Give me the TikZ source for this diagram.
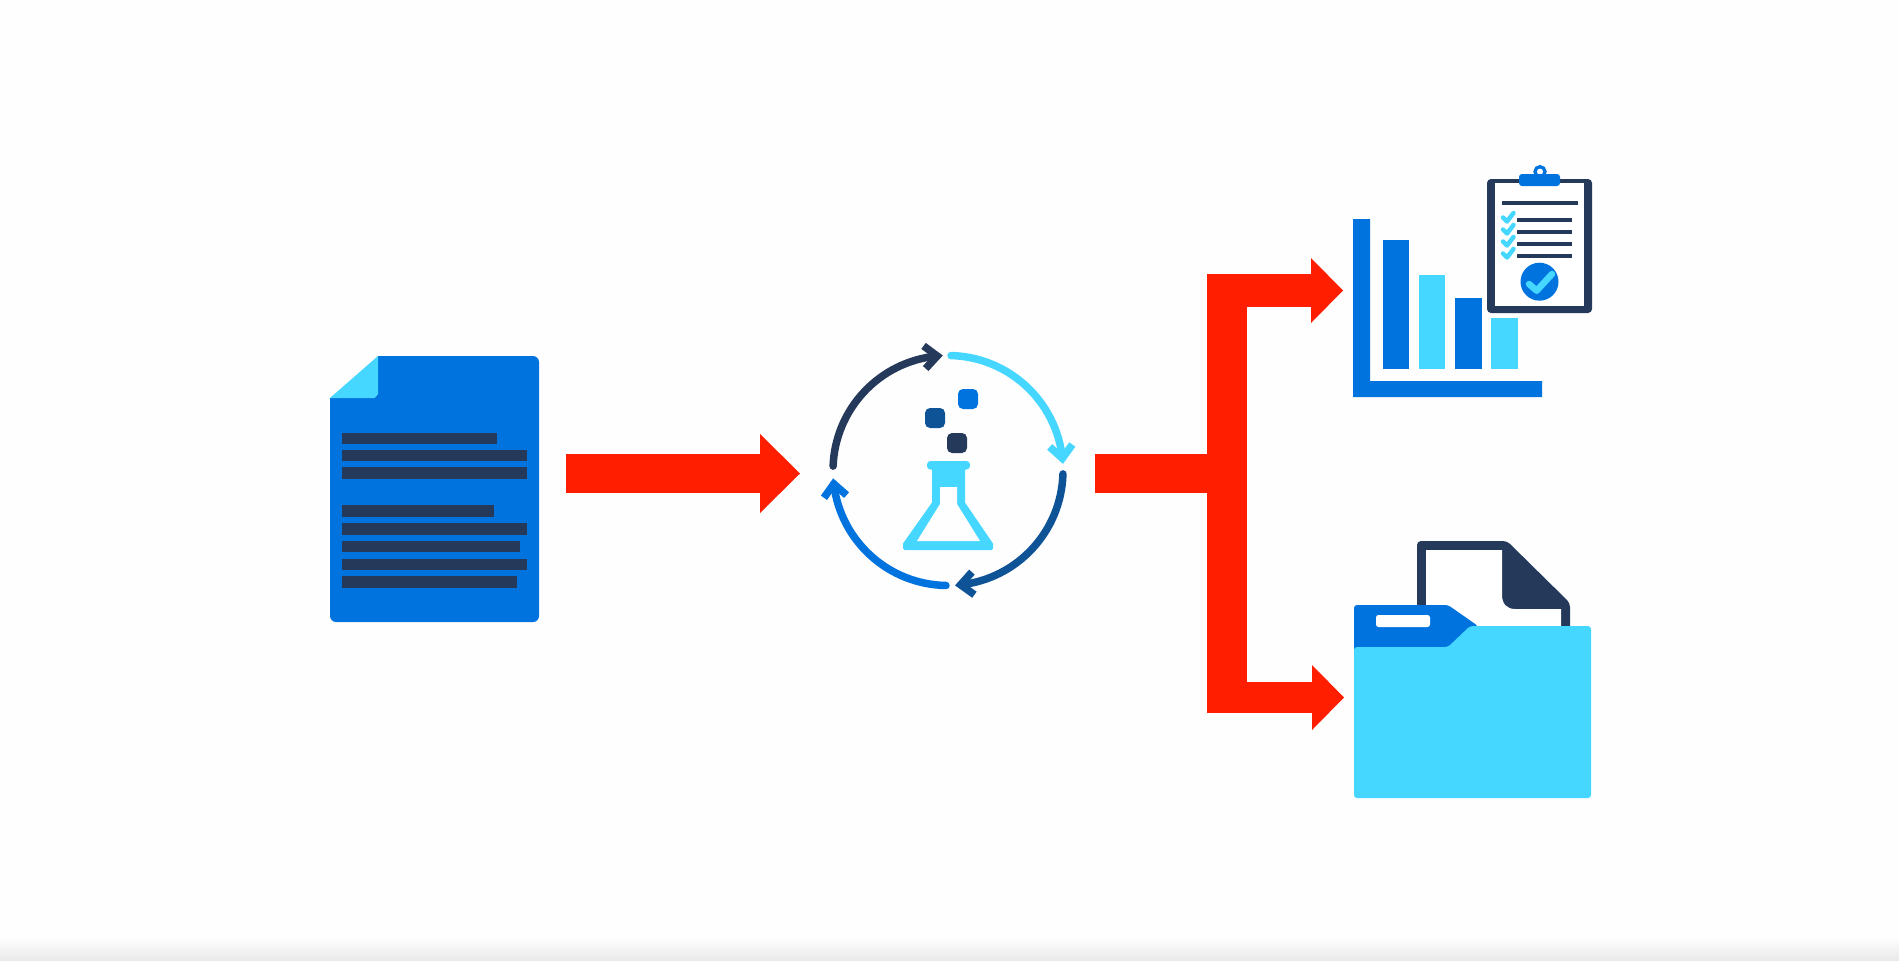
\documentclass[tikz,border=0pt]{standalone}
\usetikzlibrary{arrows.meta,calc}
\definecolor{mblue}{HTML}{0073DE}
\definecolor{lblue}{HTML}{45D7FF}
\definecolor{navy}{HTML}{25395A}
\definecolor{dblue}{HTML}{0F5397}
\definecolor{rred}{HTML}{FF1E00}
\tikzset{
  iconbox/.style={inner sep=0pt,outer sep=0pt,draw=none,fill=none},
  redline/.style={draw=rred,line cap=butt},
  bigtip/.style={-{Triangle[length=40pt,width=79pt,line width=0pt]}},
  armtip/.style={-{Triangle[length=32pt,width=65pt,line width=0pt]}},
  cyc/.style={line width=7.5pt,line cap=round},
  cychead/.style={line width=7.5pt,line cap=butt,line join=miter,miter limit=10},
  txtbar/.style={fill=navy},
  clipline/.style={draw=navy,line width=3.5pt},
  chk/.style={draw=lblue,line width=4.5pt,line cap=round,line join=round},
}
\newcommand{\cycarc}[3]{%
  \draw[#1,cyc] ($(cc)+(#2:115)$) arc[start angle=#2,end angle=#3,radius=115];
  \draw[#1,cychead] ($(cc)+(#3:115)+(#3+90+180+42:17)$) -- ($(cc)+(#3:115)$) -- ($(cc)+(#3:115)+(#3+90+180-42:17)$);
}
\begin{document}
\begin{tikzpicture}[x=1pt,y=-1pt]
\useasboundingbox (0,0) rectangle (1899,961);
\fill[white!99.6!black] (0,0) rectangle (1899,961);
\shade[top color=white!99.6!black,bottom color=black!9] (0,938) rectangle (1899,961);

% icon frames
\node[iconbox,minimum width=209pt,minimum height=266pt] (doc) at (434.5,489) {};
\node[iconbox,minimum width=236pt,minimum height=236pt] (cycle) at (948,470.5) {};
\node[iconbox,minimum width=239pt,minimum height=229pt] (charts) at (1472.5,282.5) {};
\node[iconbox,minimum width=237pt,minimum height=257pt] (folder) at (1472.5,669.5) {};

% document
\fill[mblue,rounded corners=6pt] (330,398) -- (330,622) -- (539,622) -- (539,356) -- (378,356) -- (378,398) -- cycle;
\fill[mblue] (330,398) rectangle (345,420);
\fill[mblue] (378,356) rectangle (395,372);
\fill[lblue] (330,398) -- (378,356) -- (378,394) to[out=90,in=0] (374,398) -- cycle;
\foreach \ya/\yb/\xe in {433/444/497,450/461/527,467/479/527,505/517/494,523/535/527,541/552/520,559/570/527,576/588/517}
  \fill[txtbar] (342,\ya) rectangle (\xe,\yb);

% arrow doc -> cycle
\coordinate (a1s) at ([shift={(27pt,15.5pt)}]doc.east);
\coordinate (a1e) at ([shift={(-30pt,-3pt)}]cycle.west);
\draw[redline,line width=39pt,bigtip] (a1s) -- (a1e);

% cycle
\coordinate (cc) at (cycle.center);
\cycarc{navy}{182.2}{264.6}
\cycarc{lblue}{271.5}{353.9}
\cycarc{dblue}{1.7}{83.7}
\cycarc{mblue}{91}{173.3}

% bubbles
\fill[mblue,rounded corners=5pt] (958,389) rectangle (978,409);
\fill[dblue,rounded corners=5pt] (925,408) rectangle (945,428);
\fill[navy,rounded corners=5pt] (947,433) rectangle (967,453);

% flask
\fill[lblue,rounded corners=3.5pt] (927,461) rectangle (970,469.5);
\draw[lblue,fill=lblue,line width=3pt,line join=round] (933.5,465) -- (963.5,465) -- (963.5,503) -- (991.5,544) -- (991.5,548.5) -- (904.5,548.5) -- (904.5,544) -- (933.5,503) -- cycle;
\fill[white!99.6!black] (940,487) -- (957,487) -- (957,504) -- (980,541) -- (917,541) -- (940,504) -- cycle;

% connectors to outputs
\coordinate (tj) at (1227,473.5);
\coordinate (s2) at ([shift={(29pt,-3pt)}]cycle.east);
\coordinate (ttop) at (1227,274);
\coordinate (tbot) at (1227,713);
\coordinate (e1) at ([shift={(-10pt,-8pt)}]charts.west);
\coordinate (e2) at ([shift={(-10pt,-28pt)}]folder.west);
\draw[redline,line width=39pt] (s2) -- (tj);
\draw[redline,line width=40pt] (ttop) -- (tbot);
\draw[redline,line width=33pt,armtip] (e1 -| tj) -- (e1);
\draw[redline,line width=31pt,armtip] (e2 -| tj) -- (e2);

% chart
\fill[mblue] (1353,219) -- (1370,219) -- (1370,381) -- (1542,381) -- (1542,397) -- (1353,397) -- cycle;
\fill[mblue] (1383,240) rectangle (1409,369);
\fill[lblue] (1419,275) rectangle (1445,369);
\fill[mblue] (1455,298) rectangle (1482,369);
\fill[lblue] (1491,318) rectangle (1518,369);

% clipboard
\fill[navy,rounded corners=4pt] (1487,179) rectangle (1592,313);
\fill[white] (1495,183) rectangle (1584,306);
\draw[mblue,line width=3.3pt,fill=white] (1540,171.7) circle (5);
\fill[mblue,rounded corners=3pt] (1519,174) rectangle (1560,186);
\draw[clipline] (1502,203) -- (1578,203);
\foreach \y in {220,232,244,256} {
  \draw[clipline] (1517,\y) -- (1572,\y);
  \draw[chk] (1503,\y-2.5) -- (1507,\y+1.5) -- (1513.5,\y-7);
}
\fill[mblue] (1539.5,281.7) circle (19);
\draw[lblue,line width=6.5pt,line cap=round,line join=round] (1529,284) -- (1536.7,290.7) -- (1552,274);

% folder: paper
\fill[navy,rounded corners=4pt] (1417,640) -- (1417,541) -- (1507,541) -- (1570,603) -- (1570,640) -- cycle;
\fill[white] (1426,640) -- (1426,550) -- (1502,550) -- (1502,595) .. controls (1502,604) and (1507,609) .. (1515,609) -- (1561,609) -- (1561,640) -- cycle;
% folder: tab and front
\fill[mblue,rounded corners=3pt] (1354,660) -- (1354,605) -- (1448,605) -- (1478,626) -- (1478,660) -- cycle;
\fill[lblue,rounded corners=3pt] (1354,798) -- (1354,647) -- (1448,647) -- (1470,626) -- (1591,626) -- (1591,798) -- cycle;
\fill[white,rounded corners=2.5pt] (1376,615) rectangle (1430,627);
\end{tikzpicture}
\end{document}
